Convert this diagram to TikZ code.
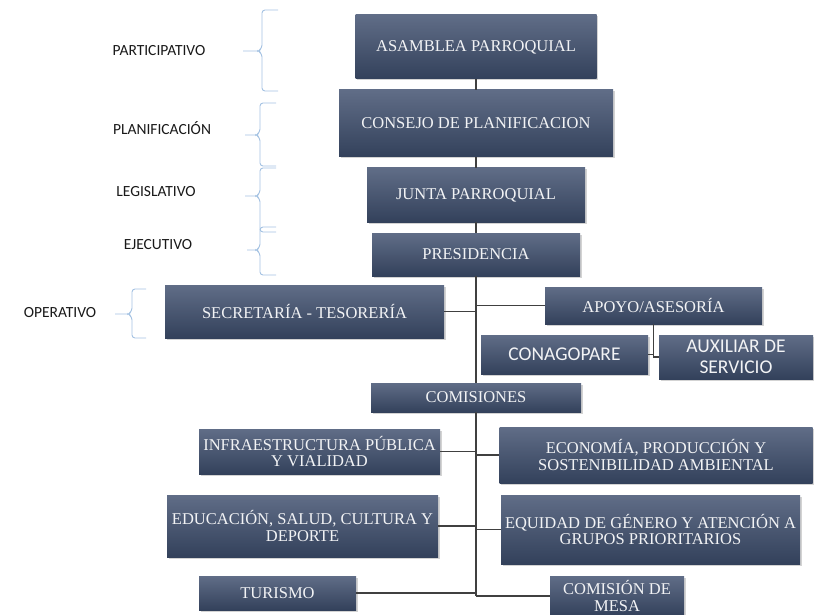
\documentclass[tikz,border=0pt]{standalone}
\usepackage{fontspec}
\setmainfont{Liberation Serif}
\newfontfamily\calibfont{Carlito}
\usetikzlibrary{shadows}

\definecolor{boxtop}{HTML}{606D87}
\definecolor{boxbot}{HTML}{33415B}
\definecolor{bracecol}{HTML}{A4C2E2}
\definecolor{linkgray}{HTML}{404040}

\tikzset{
	orgbox/.style={top color=boxtop, bottom color=boxbot, text=white!92!boxtop,
		align=center, inner sep=0pt, font=\fontsize{16.5}{16.5}\selectfont,
		drop shadow={opacity=0.35, shadow xshift=1.5pt, shadow yshift=-1.5pt}},
	sansbox/.style={orgbox, font=\calibfont\fontsize{19.5}{21}\selectfont},
	levellabel/.style={font=\calibfont\fontsize{15.5}{17}\selectfont, text=black!90},
	levelbrace/.style={draw=bracecol, line width=0.9pt, rounded corners=3pt},
	link/.style={draw=linkgray, line width=1.2pt}}

\begin{document}
\begin{tikzpicture}[x=1pt,y=1pt,yscale=-1,xscale=1]
	\useasboundingbox (0,0) rectangle (814,615);

	% Level Nodes
	\node[levellabel] (lpart) at (159,51) {PARTICIPATIVO};
	\node[levellabel] (lplan) at (162,128) {PLANIFICACIÓN};
	\node[levellabel] (lleg) at (156,192) {LEGISLATIVO};
	\node[levellabel] (lejec) at (158,245) {EJECUTIVO};
	\node[levellabel] (loper) at (60,313) {OPERATIVO};

	%Shape: Braces
	\draw[levelbrace] (278,10) -- (262,10) -- (262,48) -- (258,51) -- (262,54) -- (262,91) -- (278,91) (258,51) -- (243,51);
	\draw[levelbrace] (276,103) -- (260,103) -- (260,132) -- (256,135) -- (260,138) -- (260,166) -- (276,166) (256,135) -- (245,135);
	\draw[levelbrace] (276,168) -- (260,168) -- (260,193) -- (256,196) -- (260,199) -- (260,232) -- (276,232) (256,196) -- (245,196);
	\draw[levelbrace] (276,227) -- (260,227) -- (260,247) -- (256,250) -- (260,253) -- (260,275) -- (276,275) (256,250) -- (247,250);
	\draw[levelbrace] (146,289) -- (132,289) -- (132,311) -- (128,314) -- (132,317) -- (132,338) -- (146,338) (128,314) -- (115,314);

	% Box Nodes
	\node[orgbox, minimum width=241, minimum height=64] (asamblea) at (476,47) {ASAMBLEA PARROQUIAL};
	\node[orgbox, minimum width=274, minimum height=67] (consejo) at (476,123.5) {CONSEJO DE PLANIFICACION};
	\node[orgbox, minimum width=218, minimum height=54] (junta) at (476,195) {JUNTA PARROQUIAL};
	\node[orgbox, minimum width=208, minimum height=43] (presidencia) at (476,254.5) {PRESIDENCIA};
	\node[orgbox, minimum width=279, minimum height=53] (secretaria) at (304.5,311.5) {SECRETARÍA - TESORERÍA};
	\node[orgbox, minimum width=217, minimum height=37] (apoyo) at (653.5,305.5) {APOYO/ASESORÍA};
	\node[sansbox, minimum width=167, minimum height=39] (conagopare) at (564.5,354.5) {CONAGOPARE};
	\node[sansbox, minimum width=154, minimum height=44] (auxiliar) at (736,357) {AUXILIAR DE\\SERVICIO};
	\node[orgbox, minimum width=210, minimum height=29] (comisiones) at (476,397.5) {COMISIONES};
	\node[orgbox, minimum width=241, minimum height=45] (infra) at (319.5,451.5) {INFRAESTRUCTURA PÚBLICA\\Y VIALIDAD};
	\node[orgbox, minimum width=313, minimum height=56] (economia) at (656,455) {ECONOMÍA, PRODUCCIÓN Y\\SOSTENIBILIDAD AMBIENTAL};
	\node[orgbox, minimum width=271, minimum height=62] (educacion) at (302.5,526) {EDUCACIÓN, SALUD, CULTURA Y\\DEPORTE};
	\node[orgbox, minimum width=299, minimum height=69] (equidad) at (650.5,529.5) {EQUIDAD DE GÉNERO Y ATENCIÓN A\\GRUPOS PRIORITARIOS};
	\node[orgbox, minimum width=157, minimum height=34] (turismo) at (277.5,593) {TURISMO};
	\node[orgbox, minimum width=134, minimum height=40] (mesa) at (617,596) {COMISIÓN DE\\MESA};

	% Connectors
	\coordinate (trunk) at (476,596);
	\draw[link] (asamblea) -- (consejo);
	\draw[link] (consejo) -- (junta);
	\draw[link] (junta) -- (presidencia);
	\draw[link] (presidencia) -- (comisiones);
	\draw[link] (comisiones) -- (trunk);
	\draw[link] (secretaria.east) -- (secretaria.east -| trunk);
	\draw[link] (apoyo.west) -- (apoyo.west -| trunk);
	\draw[link] (apoyo.south) |- (auxiliar.west);
	\draw[link] (conagopare.east) -- (conagopare.east -| apoyo.south);
	\draw[link] (infra.east) -- (infra.east -| trunk);
	\draw[link] (economia.west) -- (economia.west -| trunk);
	\draw[link] (educacion.east) -- (educacion.east -| trunk);
	\draw[link] (equidad.west) -- (equidad.west -| trunk);
	\draw[link] (turismo.east) -- (turismo.east -| trunk);
	\draw[link] (mesa.west) -- (trunk);

\end{tikzpicture}
\end{document}
